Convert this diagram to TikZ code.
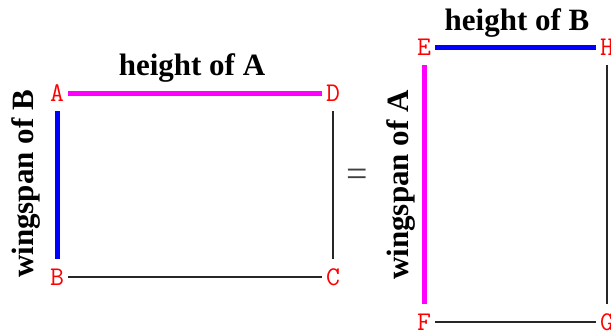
\documentclass[tikz,border=0pt]{standalone}
\usepackage{fontspec}
\setmainfont{Liberation Serif}
\usepackage{tikz}
\definecolor{spanmagenta}{HTML}{FF00FF}
\definecolor{spanblue}{HTML}{0000FF}
\definecolor{cornerred}{HTML}{FF0000}

\begin{document}
\begin{tikzpicture}[
    x=1pt, y=-1pt,
    vertex/.style={text=cornerred, font=\ttfamily\fontsize{27}{27}\selectfont, inner sep=0pt, minimum width=22pt, minimum height=36pt},
    title/.style={font=\bfseries\fontsize{31}{31}\selectfont, inner sep=0pt, anchor=base},
    wing/.style={title, rotate=90},
    plainside/.style={draw=black!85, line width=1.6pt},
    magentaside/.style={draw=spanmagenta, line width=5pt},
    blueside/.style={draw=spanblue, line width=5pt}
]
\useasboundingbox (0,0) rectangle (611,330);

% Left rectangle
\node[vertex] (A) at (57,93) {A};
\node[vertex] (D) at (333,93) {D};
\node[vertex] (B) at (57,277) {B};
\node[vertex] (C) at (333,277) {C};
\draw[magentaside] (A) -- (D);
\draw[blueside] (A) -- (B);
\draw[plainside] (B) -- (C);
\draw[plainside] (D) -- (C);
\node[title] (heightA) at (192,75) {height of A};
\node[wing] (wingB) at (33,184) {wingspan of B};

\node[font=\fontsize{38}{38}\selectfont, text=black!75, inner sep=0pt] (equal) at (357,178) {=};

% Right rectangle
\node[vertex] (E) at (424,47) {E};
\node[vertex] (H) at (607,47) {H};
\node[vertex] (F) at (424,322) {F};
\node[vertex] (G) at (607,322) {G};
\draw[blueside] (E) -- (H);
\draw[magentaside] (E) -- (F);
\draw[plainside] (F) -- (G);
\draw[plainside] (H) -- (G);
\node[title] (heightB) at (517,30) {height of B};
\node[wing] (wingA) at (408,185) {wingspan of A};
\end{tikzpicture}
\end{document}
